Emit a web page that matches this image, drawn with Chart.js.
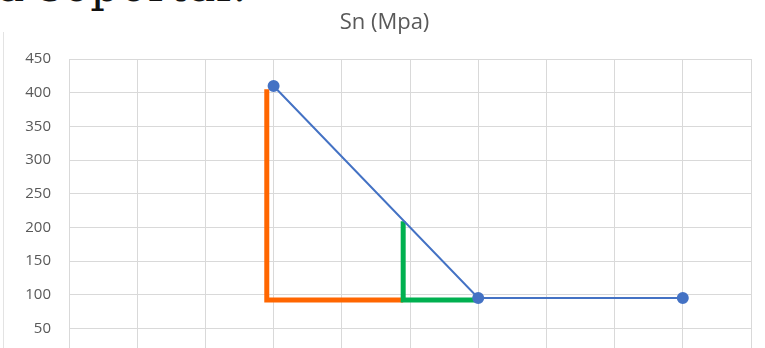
<!DOCTYPE html>
<html>
<head>
<meta charset="utf-8">
<script src="https://cdn.jsdelivr.net/npm/chart.js@4/dist/chart.umd.min.js"></script>
<style>
  html, body { margin: 0; padding: 0; background: #fff; overflow: hidden; width: 765px; height: 348px; }
  #doc { position: absolute; left: -3px; top: -42px; font: 46px "DejaVu Serif", serif; color: #111; white-space: nowrap; }
  #edge { position: absolute; left: 3px; top: 32px; width: 1px; height: 320px; background: #e3e3e3; }
  #wrap { position: absolute; left: 0; top: 0; width: 765px; height: 389px; }
</style>
</head>
<body>
<div id="doc">a soportar.</div>
<div id="edge"></div>
<div id="wrap"><canvas id="chart"></canvas></div>
<script>
// x = log10 of cycles (axis runs 10^0 .. 10^10)
const SN_X = [3, 6, 9];
const SN_Y = [410, 95, 95];

const ORANGE_X = [2.9, 2.9, 4.9];
const ORANGE_Y = [405, 92, 92];

const GREEN_X = [4.9, 4.9, 6.04];
const GREEN_Y = [209, 92, 92];

const Y_TICKS = [0, 50, 100, 150, 200, 250, 300, 350, 400, 450];

const pts = (xs, ys) => xs.map((x, i) => ({ x: x, y: ys[i] }));

new Chart(document.getElementById('chart'), {
    type: 'scatter',
    data: {
        datasets: [
            {
                label: 'Sn',
                data: pts(SN_X, SN_Y),
                showLine: true,
                borderColor: '#4472C4',
                backgroundColor: '#4472C4',
                borderWidth: 2,
                pointRadius: 5,
                order: 0,
            },
            {
                label: 'a',
                data: pts(ORANGE_X, ORANGE_Y),
                showLine: true,
                borderColor: '#FF6600',
                borderWidth: 5,
                pointRadius: 0,
                borderJoinStyle: 'miter',
                order: 2,
            },
            {
                label: 'b',
                data: pts(GREEN_X, GREEN_Y),
                showLine: true,
                borderColor: '#00B050',
                borderWidth: 5,
                pointRadius: 0,
                borderJoinStyle: 'miter',
                order: 1,
            },
        ]
    },
    options: {
        responsive: true,
        maintainAspectRatio: false,
        animation: false,
        layout: { padding: { left: 18, right: 14, top: 0, bottom: 9 } },
        scales: {
            x: {
                type: 'linear',
                min: 0,
                max: 10,
                ticks: { display: false, stepSize: 1 },
                grid: { color: '#d9d9d9', drawTicks: false },
                border: { display: false },
            },
            y: {
                min: 0,
                max: 450,
                afterBuildTicks: axis => { axis.ticks = Y_TICKS.map(v => ({ value: v })); },
                afterFit: scale => { scale.width = 51; },
                ticks: {
                    color: '#595959',
                    font: { family: 'Open Sans', size: 15 },
                    padding: 18,
                },
                grid: { color: '#d9d9d9', drawTicks: false },
                border: { color: '#d9d9d9' },
            },
        },
        plugins: {
            legend: { display: false },
            tooltip: { enabled: false },
            title: {
                display: true,
                text: 'Sn (Mpa)',
                color: '#595959',
                font: { family: 'Open Sans', size: 22, weight: 'normal' },
                padding: { top: 10, bottom: 22.6 },
            }
        }
    }
});
</script>
</body>
</html>
